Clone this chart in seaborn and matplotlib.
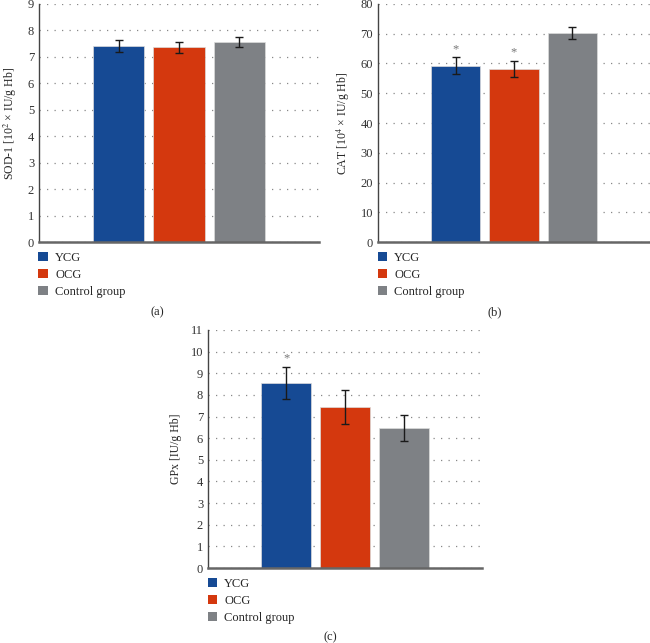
import numpy as np
import pandas as pd
import matplotlib
matplotlib.use("Agg")
import matplotlib.pyplot as plt
import matplotlib.patches as mpatches
import seaborn as sns

groups = ["YCG", "OCG", "Control group"]
colors = ["#164a94", "#d4380e", "#7e8185"]

sod_mean = [7.40, 7.36, 7.56]
sod_err = [0.22, 0.21, 0.19]
cat_mean = [59.3, 58.1, 70.2]
cat_err = [2.8, 2.7, 1.9]
gpx_mean = [8.55, 7.44, 6.45]
gpx_err = [0.76, 0.77, 0.60]

sod_star = [False, False, False]
cat_star = [True, True, False]
gpx_star = [True, False, False]

sns.set_style("white")
plt.rcParams["font.family"] = ["Liberation Serif", "DejaVu Serif"]
plt.rcParams["mathtext.fontset"] = "stix"

fig = plt.figure(figsize=(6.5, 6.43), dpi=100)


def panel(rect, means, errs, stars, ymax, ylabel, tag, tag_xy):
    ax = fig.add_axes(rect)
    df = pd.DataFrame({"group": groups, "value": means})
    sns.barplot(data=df, x="group", y="value", hue="group", order=groups,
                hue_order=groups, palette=colors, width=0.85, legend=False,
                saturation=1, edgecolor="#dcdcdc", linewidth=0.5, ax=ax)
    x = np.arange(len(groups))
    ax.errorbar(x, means, yerr=errs, fmt="none", ecolor="#1a1a1a",
                elinewidth=1.0, capsize=3, capthick=1.0, zorder=5)
    for xi, m, e, s in zip(x, means, errs, stars):
        if s:
            ax.text(xi, m + e + ymax * 0.01, "*", ha="center", va="bottom",
                    fontsize=9, color="#777777")
    ax.set_xlim(-1.33, 3.33)
    ax.set_ylim(0, ymax)
    ax.set_yticks(range(0, ymax + 1, 1 if ymax < 20 else 10))
    ax.yaxis.grid(True, linestyle=(0, (1, 5)), color="#888888", linewidth=0.9)
    ax.set_axisbelow(True)
    ax.set_xticks([])
    ax.set_xlabel("")
    ax.set_ylabel(ylabel, fontsize=8.5, labelpad=6)
    ax.tick_params(axis="y", labelsize=9, length=3, width=0.8,
                   direction="inout", pad=2, colors="#333333")
    for side in ["top", "right"]:
        ax.spines[side].set_visible(False)
    ax.spines["left"].set_color("#444444")
    ax.spines["left"].set_linewidth(1.0)
    ax.spines["bottom"].set_color("#666666")
    ax.spines["bottom"].set_linewidth(1.8)
    handles = [mpatches.Patch(facecolor=c, edgecolor="none", label=g)
               for g, c in zip(groups, colors)]
    ax.legend(handles=handles, loc="upper left", bbox_to_anchor=(-0.02, -0.02),
              frameon=False, fontsize=9, handlelength=0.75, handleheight=0.75,
              handletextpad=0.6, labelspacing=0.4, borderaxespad=0)
    fig.text(tag_xy[0] / 650, 1 - tag_xy[1] / 643, tag, ha="center",
             va="center", fontsize=9)
    return ax


panel([0.060, 0.6236, 0.4308, 0.3702], sod_mean, sod_err, sod_star, 9,
      r"SOD-1 [10$^2$ × IU/g Hb]", "(a)", (157, 312))
panel([0.5815, 0.6236, 0.4185, 0.3702], cat_mean, cat_err, cat_star, 80,
      r"CAT [10$^4$ × IU/g Hb]", "(b)", (495, 312))
panel([0.320, 0.1166, 0.4215, 0.3702], gpx_mean, gpx_err, gpx_star, 11,
      "GPx [IU/g Hb]", "(c)", (330, 637))

fig.savefig("out.png", dpi=100)
